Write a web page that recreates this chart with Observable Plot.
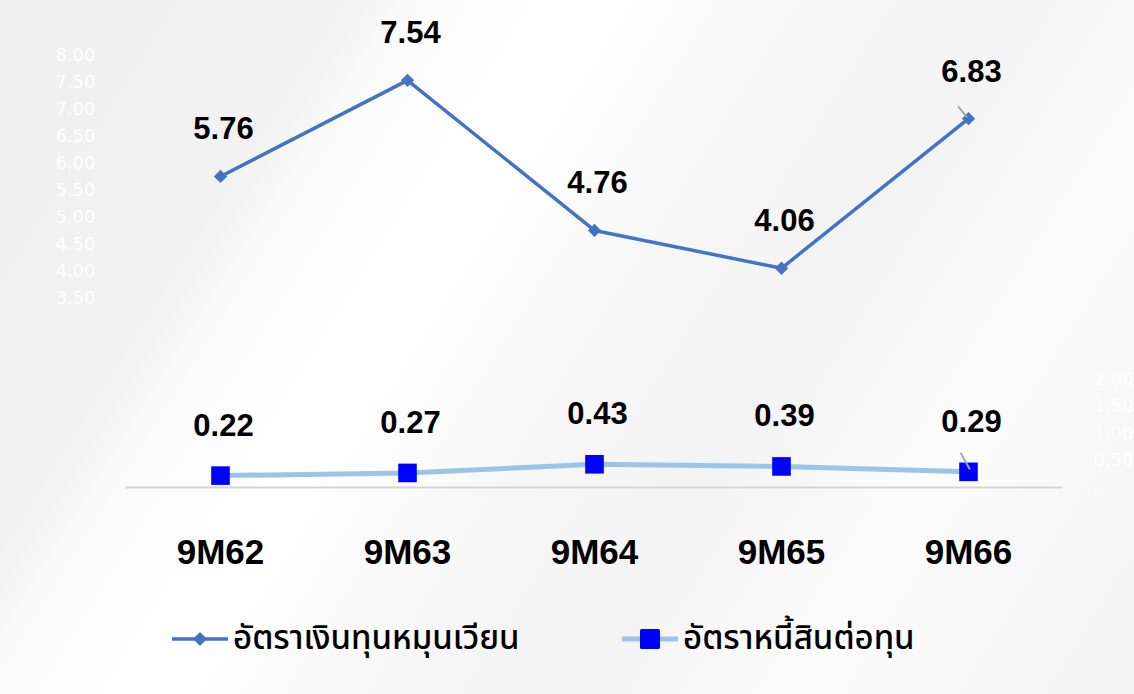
<!DOCTYPE html>
<html>
<head>
<meta charset="utf-8">
<script src="https://cdn.jsdelivr.net/npm/d3@7"></script>
<script src="https://cdn.jsdelivr.net/npm/@observablehq/plot@0.6"></script>
<style>
  html, body { margin: 0; padding: 0; }
  #wrap {
    position: relative; width: 1134px; height: 694px; overflow: hidden;
    font-family: "Liberation Sans", Arial, sans-serif;
    background: linear-gradient(122deg, #eeeeee 0%, #f2f2f2 22%, #fbfbfb 27%, #ffffff 38%, #f7f7f7 52%, #f3f3f3 64%, #fcfcfc 78%, #f3f3f3 100%);
  }
  #chart { position: absolute; left: 0; top: 0; }
  #legend { position: absolute; left: 0; top: 612px; width: 1134px; height: 54px; }
  .item { position: absolute; top: 0; height: 54px; display: flex; align-items: center; }
  .item span { font-family: "Noto Sans Thai", "Noto Sans", "DejaVu Sans", sans-serif; font-size: 33px; color: #000; font-weight: 500; }
</style>
</head>
<body>
<div id="wrap">
  <div id="chart"></div>
  <div id="legend"></div>
</div>
<script>
const categories = ["9M62", "9M63", "9M64", "9M65", "9M66"];
const workingCapitalRatio = [5.76, 7.54, 4.76, 4.06, 6.83];
const debtToEquity = [0.22, 0.27, 0.43, 0.39, 0.29];
const leftTicks = [3.5, 4, 4.5, 5, 5.5, 6, 6.5, 7, 7.5, 8];
const rightTicks = [0, 0.5, 1, 1.5, 2];
const seriesNames = ["อัตราเงินทุนหมุนเวียน", "อัตราหนี้สินต่อทุน"];

const wc = categories.map((c, i) => ({cat: c, v: workingCapitalRatio[i]}));
const de = categories.map((c, i) => ({cat: c, v: debtToEquity[i]}));

const blue = "#4472C4", light = "#9DC3E6", square = "#0000FF";

const plot = Plot.plot({
  width: 1134,
  height: 600,
  marginTop: 55,
  marginBottom: 113,
  marginLeft: 125,
  marginRight: 72,
  style: {background: "transparent", overflow: "visible", fontFamily: "Liberation Sans, Arial, sans-serif"},
  x: {type: "point", domain: categories, padding: 0.5},
  y: {domain: [0, 8]},
  marks: [
    Plot.axisY({anchor: "left", ticks: leftTicks, tickFormat: d => d.toFixed(2), tickSize: 0, tickPadding: 30,
      fill: "white", fontSize: 18, fontFamily: "DejaVu Sans", label: null}),
    Plot.axisY({anchor: "right", ticks: rightTicks, tickFormat: d => d === 0 ? "-" : d.toFixed(2), tickSize: 0, tickPadding: 31,
      fill: "white", fontSize: 18, fontFamily: "DejaVu Sans", label: null}),
    Plot.axisX({tickSize: 0, tickPadding: 52, fontSize: 35, fontWeight: "bold", fill: "black", label: null}),
    Plot.ruleY([0], {stroke: "#d3d3d3", strokeWidth: 2}),
    Plot.line(de, {x: "cat", y: "v", stroke: light, strokeWidth: 5}),
    Plot.dot(de, {x: "cat", y: "v", symbol: "square", r: 10.5, fill: square, stroke: "none"}),
    Plot.line(wc, {x: "cat", y: "v", stroke: blue, strokeWidth: 3.5}),
    Plot.dot(wc, {x: "cat", y: "v", symbol: "diamond2", r: 6, fill: blue, stroke: "none"}),
    Plot.vector(wc.slice(-1), {x: "cat", y: "v", length: 13, rotate: -39, shape: "spike", r: 0.3, anchor: "start",
      fill: "#a0a0a0", stroke: "#a0a0a0", strokeWidth: 1.6, dx: -2, dy: -2}),
    Plot.vector(de.slice(-1), {x: "cat", y: "v", length: 18, rotate: -29, shape: "spike", r: 0.3, anchor: "start",
      fill: "#a0a0a0", stroke: "#a0a0a0", strokeWidth: 1.6, dx: 1, dy: -3}),
    Plot.text(wc, {x: "cat", y: "v", text: d => d.v.toFixed(2), dy: -47, dx: 3, fontSize: 31, fontWeight: "bold", fill: "black"}),
    Plot.text(de, {x: "cat", y: "v", text: d => d.v.toFixed(2), dy: -50, dx: 3, fontSize: 31, fontWeight: "bold", fill: "black"})
  ]
});
document.getElementById("chart").appendChild(plot);

// Legend
const legend = document.getElementById("legend");
function addItem(left, name, kind) {
  const it = document.createElement("div");
  it.className = "item";
  it.style.left = left + "px";
  const ns = "http://www.w3.org/2000/svg";
  const sw = document.createElementNS(ns, "svg");
  sw.setAttribute("width", 60); sw.setAttribute("height", 30);
  sw.style.marginRight = "3px";
  const ln = document.createElementNS(ns, "line");
  ln.setAttribute("x1", 2); ln.setAttribute("x2", 58); ln.setAttribute("y1", 15); ln.setAttribute("y2", 15);
  if (kind === "wc") {
    ln.setAttribute("stroke", blue); ln.setAttribute("stroke-width", 3.5);
    sw.appendChild(ln);
    const p = document.createElementNS(ns, "path");
    p.setAttribute("d", "M30,8 L37,15 L30,22 L23,15 Z"); p.setAttribute("fill", blue);
    sw.appendChild(p);
  } else {
    ln.setAttribute("stroke", light); ln.setAttribute("stroke-width", 5);
    sw.appendChild(ln);
    const r = document.createElementNS(ns, "rect");
    r.setAttribute("x", 20); r.setAttribute("y", 5); r.setAttribute("width", 20); r.setAttribute("height", 20);
    r.setAttribute("rx", 1.5); r.setAttribute("fill", square);
    sw.appendChild(r);
  }
  it.appendChild(sw);
  const t = document.createElement("span");
  t.textContent = name;
  it.appendChild(t);
  legend.appendChild(it);
}
addItem(170, seriesNames[0], "wc");
addItem(620, seriesNames[1], "de");
</script>
</body>
</html>
